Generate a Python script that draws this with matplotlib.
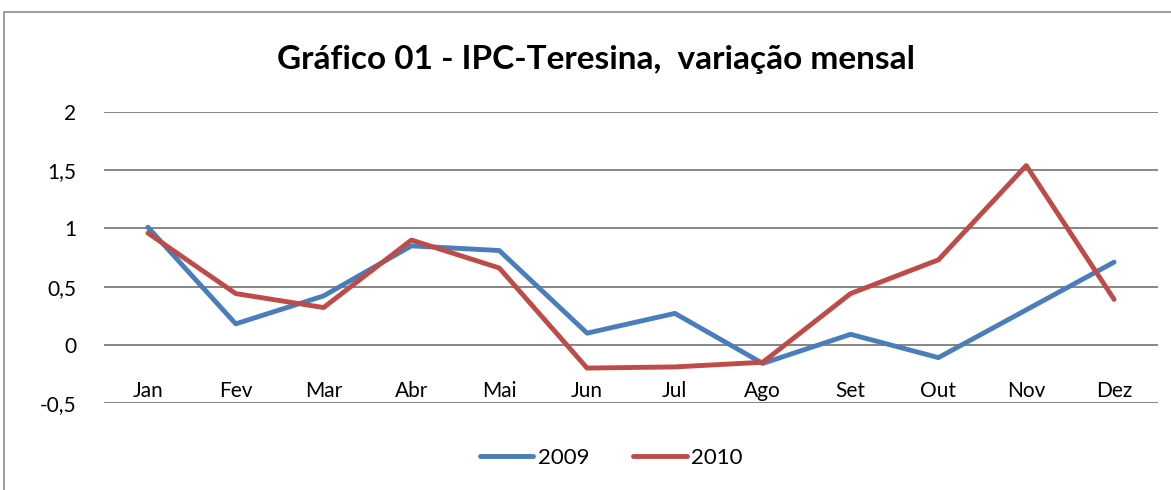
import numpy as np
import matplotlib.pyplot as plt
from matplotlib.patches import Rectangle

meses = ["Jan", "Fev", "Mar", "Abr", "Mai", "Jun", "Jul", "Ago", "Set", "Out", "Nov", "Dez"]
ipc_2009 = [1.01, 0.18, 0.42, 0.85, 0.81, 0.10, 0.27, -0.16, 0.09, -0.11, 0.30, 0.71]
ipc_2010 = [0.96, 0.44, 0.32, 0.90, 0.66, -0.20, -0.19, -0.15, 0.44, 0.73, 1.54, 0.39]
yticks = [-0.5, 0, 0.5, 1, 1.5, 2]
ylabels = ["-0,5", "0", "0,5", "1", "1,5", "2"]

plt.rcParams['font.family'] = ['Lato', 'DejaVu Sans']

fig = plt.figure(figsize=(11.71, 4.90), dpi=100)
ax = fig.add_axes([104/1171, 87/490, 1054/1171, 291/490])

# outer chart border
fig.patches.append(Rectangle((4/1171, -0.1), 1.2, (478/490) + 0.1, transform=fig.transFigure,
                             fill=False, edgecolor="#8c8c8c", linewidth=1.2))

x = np.arange(len(meses))
ax.plot(x, ipc_2009, color="#4A7EBB", linewidth=3.5, label="2009", solid_capstyle="round")
ax.plot(x, ipc_2010, color="#BE4B48", linewidth=3.5, label="2010", solid_capstyle="round")

ax.set_xlim(-0.5, 11.5)
ax.set_ylim(-0.5, 2)
ax.set_yticks(yticks)
ax.set_yticklabels(ylabels, fontsize=15)
ax.yaxis.grid(True, color="#868686", linewidth=1.4)
ax.set_axisbelow(True)
ax.tick_params(axis="y", length=0, pad=20)

ax.spines['bottom'].set_position(('data', 0))
for s in ax.spines.values():
    s.set_visible(False)
ax.set_xticks(x)
ax.set_xticklabels(meses, fontsize=15)
ax.tick_params(axis="x", length=0, pad=26)

fig.text(0.509, 0.878, "Gráfico 01 - IPC-Teresina,  variação mensal", ha="center", va="center",
         fontsize=24, fontweight="bold")

fig.legend(loc="center", bbox_to_anchor=(0.522, 0.065), ncol=2, frameon=False, fontsize=16,
           handlelength=2.4, handletextpad=0.2, columnspacing=2.0)

fig.savefig("out.png", dpi=100)
